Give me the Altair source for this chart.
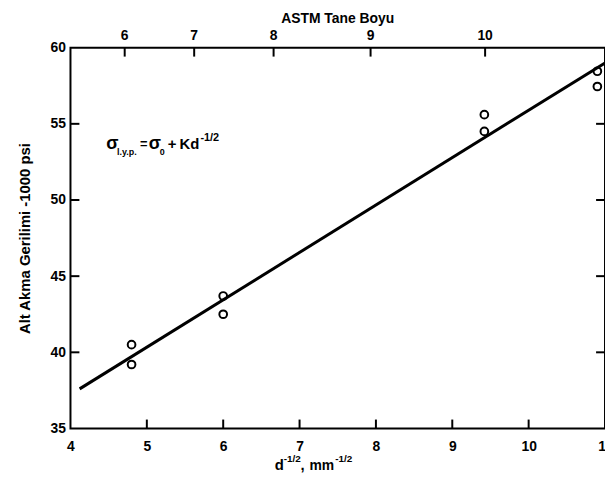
import altair as alt
import pandas as pd

# data
d_pts = [4.8, 4.8, 6.0, 6.0, 9.42, 9.42, 10.9, 10.9]
sigma_pts = [40.5, 39.2, 43.7, 42.5, 55.6, 54.5, 58.45, 57.45]
fit_d = [4.12, 11.0]
fit_sigma = [37.6, 59.0]
x_ticks = [5, 6, 7, 8, 9, 10]
x_labels = [4, 5, 6, 7, 8, 9, 10, 11]
y_ticks = [40, 45, 50, 55]
y_labels = [35, 40, 45, 50, 55, 60]
astm_sizes = ["6", "7", "8", "9", "10"]
astm_pos = [4.71, 5.62, 6.66, 7.93, 9.43]

W, H = 539, 384
FONT = "Liberation Sans"
TL = 9  # tick length

xs = alt.Scale(domain=[4, 11], nice=False, zero=False)
ys = alt.Scale(domain=[35, 60], nice=False, zero=False)

pts = pd.DataFrame({"x": d_pts, "y": sigma_pts})
fit = pd.DataFrame({"x": fit_d, "y": fit_sigma})

points = alt.Chart(pts).mark_point(
    shape="circle", filled=False, color="black", strokeWidth=2, size=60, opacity=1
).encode(
    x=alt.X("x:Q", scale=xs, axis=alt.Axis(
        values=x_labels, format="d", ticks=False, domain=False, grid=False,
        labelFontSize=14, labelFontWeight="bold", labelFont=FONT, labelColor="black",
        labelPadding=11, labelFlush=False, title=None)),
    y=alt.Y("y:Q", scale=ys, axis=alt.Axis(
        values=y_labels, format="d", ticks=False, domain=False, grid=False,
        labelFontSize=14, labelFontWeight="bold", labelFont=FONT, labelColor="black",
        labelPadding=5, labelFlush=False,
        title="Alt Akma Gerilimi -1000 psi", titleFontSize=15, titleFontWeight="bold",
        titleFont=FONT, titleColor="black", titlePadding=18)),
)

line = alt.Chart(fit).mark_line(color="black", strokeWidth=3).encode(
    x=alt.X("x:Q", scale=xs), y=alt.Y("y:Q", scale=ys))

xt = pd.DataFrame({"x": x_ticks})
bottom_ticks = alt.Chart(xt).mark_tick(
    color="black", orient="vertical", size=TL, thickness=2, opacity=1
).encode(x=alt.X("x:Q", scale=xs), y=alt.value(H - TL / 2))

at = pd.DataFrame({"x": astm_pos, "label": astm_sizes})
top_ticks = alt.Chart(at).mark_tick(
    color="black", orient="vertical", size=TL, thickness=2, opacity=1
).encode(x=alt.X("x:Q", scale=xs), y=alt.value(TL / 2))
top_labels = alt.Chart(at).mark_text(
    font=FONT, fontSize=14, fontWeight="bold", color="black", baseline="alphabetic"
).encode(x=alt.X("x:Q", scale=xs), y=alt.value(-8), text="label:N")

yt = pd.DataFrame({"y": y_ticks})
left_ticks = alt.Chart(yt).mark_tick(
    color="black", orient="horizontal", size=TL, thickness=2, opacity=1
).encode(y=alt.Y("y:Q", scale=ys), x=alt.value(TL / 2))
right_ticks = alt.Chart(yt).mark_tick(
    color="black", orient="horizontal", size=TL, thickness=2, opacity=1
).encode(y=alt.Y("y:Q", scale=ys), x=alt.value(W - TL / 2))

def txt(s, x, y, size, weight="bold", align="left"):
    return alt.Chart(pd.DataFrame({"t": [s]})).mark_text(
        font=FONT, fontSize=size, fontWeight=weight, color="black",
        align=align, baseline="alphabetic"
    ).encode(x=alt.value(x), y=alt.value(y), text="t:N")

top_title = txt("ASTM Tane Boyu", W / 2, -25, 14, align="center")

# x axis title: d^-1/2, mm^-1/2
xtitle = [
    txt("d", 206, 426, 15),
    txt("-1/2", 215, 418, 10),
    txt(",", 232, 426, 15),
    txt("mm", 241, 426, 14),
    txt("-1/2", 267, 418, 10),
]

# formula annotation
formula = [
    txt("σ", 36, 102, 18),
    txt("l.y.p.", 47, 108, 9),
    txt("=", 70, 101, 13),
    txt("σ", 79, 102, 18),
    txt("0", 90, 108, 9),
    txt("+", 98, 102, 15),
    txt("Kd", 110, 102, 15),
    txt("-1/2", 131, 94, 11),
]

chart = alt.layer(
    points, line, bottom_ticks, top_ticks, top_labels, left_ticks, right_ticks,
    top_title, *xtitle, *formula
).properties(
    width=W, height=H,
    autosize=alt.AutoSizeParams(type="none"),
    padding={"left": 63, "top": 38, "right": 0, "bottom": 56},
    background="white",
).configure_view(stroke="black", strokeWidth=2)

chart.save("out.html", embed_options={"renderer": "svg", "actions": False})
